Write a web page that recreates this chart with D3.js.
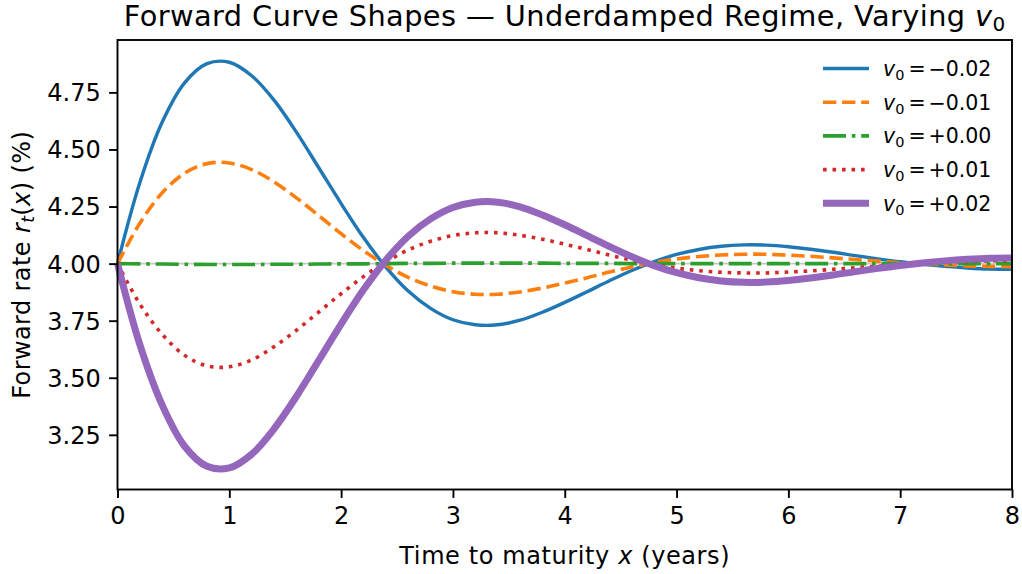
<!DOCTYPE html>
<html>
<head>
<meta charset="utf-8">
<script src="https://cdn.jsdelivr.net/npm/d3@7"></script>
<style>
  html, body { margin: 0; padding: 0; background: #fff; }
  svg { display: block; font-family: "DejaVu Sans", sans-serif; }
</style>
</head>
<body>
<svg id="chart" width="1022" height="574"></svg>
<script>
// ---- data ----
const maturity = [0,0.2,0.4,0.6,0.8,1,1.2,1.4,1.6,1.8,2,2.2,2.4,2.6,2.8,3,3.2,3.4,3.6,3.8,4,4.2,4.4,4.6,4.8,5,5.2,5.4,5.6,5.8,6,6.2,6.4,6.6,6.8,7,7.2,7.4,7.6,7.8,8];

const rateVm002 = [4.000,4.355,4.620,4.792,4.876,4.882,4.823,4.716,4.576,4.420,4.263,4.114,3.985,3.880,3.804,3.754,3.732,3.732,3.752,3.787,3.830,3.877,3.925,3.970,4.009,4.040,4.062,4.076,4.082,4.081,4.074,4.063,4.050,4.035,4.021,4.008,3.997,3.988,3.981,3.976,3.975];
const rateVm001 = [4.000,4.177,4.310,4.396,4.438,4.441,4.412,4.358,4.288,4.210,4.131,4.057,3.993,3.940,3.902,3.877,3.866,3.866,3.876,3.893,3.915,3.938,3.963,3.985,4.005,4.020,4.031,4.038,4.041,4.041,4.037,4.032,4.025,4.018,4.011,4.004,3.998,3.994,3.990,3.988,3.987];
const rateV000  = [4.000,3.999,3.998,3.997,3.996,3.996,3.996,3.997,3.997,3.998,3.999,3.999,4.000,4.001,4.001,4.002,4.002,4.002,4.002,4.002,4.001,4.001,4.001,4.000,4.000,4.000,4.000,4.000,4.000,4.000,4.000,4.000,4.000,4.000,4.000,4.000,4.000,4.000,4.000,4.000,4.000];
const rateVp001 = [4.000,3.823,3.690,3.598,3.552,3.548,3.578,3.636,3.708,3.788,3.868,3.943,4.007,4.060,4.098,4.123,4.135,4.135,4.124,4.107,4.085,4.062,4.037,4.015,3.995,3.980,3.969,3.962,3.959,3.959,3.963,3.968,3.975,3.982,3.989,3.996,4.002,4.006,4.010,4.012,4.013];
const rateVp002 = [4.000,3.645,3.380,3.200,3.112,3.105,3.165,3.276,3.418,3.576,3.735,3.885,4.015,4.120,4.196,4.246,4.269,4.269,4.249,4.213,4.170,4.123,4.075,4.030,3.991,3.960,3.938,3.924,3.918,3.919,3.926,3.937,3.950,3.965,3.979,3.992,4.003,4.012,4.019,4.024,4.025];

const seriesNames = ["−0.02","−0.01","+0.00","+0.01","+0.02"];
const seriesValues = [rateVm002, rateVm001, rateV000, rateVp001, rateVp002];
const xTicks = [0,1,2,3,4,5,6,7,8];
const yTicks = [3.25,3.50,3.75,4.00,4.25,4.50,4.75];
const xLimits = [0, 8];
const yLimits = [3.0105, 4.9795];
const baseRate = 4.0;

// ---- styles ----
const colors = ["#1f77b4","#ff7f0e","#2ca02c","#d62728","#9467bd"];
const widths = [3.4, 3.6, 3.6, 3.6, 7.0];
const dashes = [null, "13.3,5.8", "23,5.8,3.6,5.8", "3.6,5.9", null];

const svg = d3.select("#chart");
const M = {left: 117.5, right: 1012, top: 40, bottom: 489.5};
const x = d3.scaleLinear().domain(xLimits).range([M.left, M.right]);
const y = d3.scaleLinear().domain(yLimits).range([M.bottom, M.top]);

// reference line at base rate
svg.append("line")
  .attr("x1", x(xLimits[0])).attr("x2", x(xLimits[1]))
  .attr("y1", y(baseRate)).attr("y2", y(baseRate))
  .attr("stroke", "#999").attr("stroke-opacity", 0.55).attr("stroke-width", 1.6);

const line = d3.line()
  .x((d, i) => x(maturity[i]))
  .y(d => y(d))
  .curve(d3.curveCatmullRom.alpha(0.5));

const plotG = svg.append("g");
seriesValues.forEach((vals, k) => {
  plotG.append("path")
    .attr("d", line(vals))
    .attr("fill", "none")
    .attr("stroke", colors[k])
    .attr("stroke-width", widths[k])
    .attr("stroke-dasharray", dashes[k])
    .attr("stroke-linecap", "butt")
    .attr("stroke-linejoin", "round");
});

// axes
const tickFont = 24;
const xAxis = d3.axisBottom(x).tickValues(xTicks).tickFormat(d3.format("d"))
  .tickSize(8.4).tickPadding(9.5).tickSizeOuter(0);
const yAxis = d3.axisLeft(y).tickValues(yTicks).tickFormat(d3.format(".2f"))
  .tickSize(8.4).tickPadding(8.4).tickSizeOuter(0);

const gx = svg.append("g").attr("transform", `translate(0,${M.bottom})`).call(xAxis);
const gy = svg.append("g").attr("transform", `translate(${M.left},0)`).call(yAxis);
[gx, gy].forEach(g => {
  g.attr("font-family", "DejaVu Sans, sans-serif").attr("font-size", tickFont);
  g.select(".domain").remove();
  g.selectAll(".tick line").attr("stroke", "#000").attr("stroke-width", 1.9);
  g.selectAll(".tick text").attr("fill", "#000");
});
gy.selectAll(".tick text").attr("dy", "0.35em");

// frame
svg.append("rect")
  .attr("x", M.left).attr("y", M.top)
  .attr("width", M.right - M.left).attr("height", M.bottom - M.top)
  .attr("fill", "none").attr("stroke", "#000").attr("stroke-width", 1.9);

// title
const title = svg.append("text")
  .attr("x", (M.left + M.right) / 2).attr("y", 26)
  .attr("text-anchor", "middle").attr("font-size", 28.8).attr("fill", "#000")
  .attr("letter-spacing", 0.42);
title.append("tspan").text("Forward Curve Shapes — Underdamped Regime, Varying ");
title.append("tspan").attr("font-style", "italic").text("v");
title.append("tspan").attr("font-size", 20).attr("dy", 5).text("0");

// x label
const xl = svg.append("text")
  .attr("x", (M.left + M.right) / 2).attr("y", 564)
  .attr("text-anchor", "middle").attr("font-size", 24).attr("fill", "#000")
  .attr("letter-spacing", 0.6);
xl.append("tspan").text("Time to maturity ");
xl.append("tspan").attr("font-style", "italic").text("x");
xl.append("tspan").text(" (years)");

// y label
const yl = svg.append("text")
  .attr("transform", `translate(30,${(M.top + M.bottom) / 2}) rotate(-90)`)
  .attr("text-anchor", "middle").attr("font-size", 24).attr("fill", "#000")
  .attr("letter-spacing", 0.4);
yl.append("tspan").text("Forward rate ");
yl.append("tspan").attr("font-style", "italic").text("r");
yl.append("tspan").attr("font-style", "italic").attr("font-size", 17).attr("dy", 4).text("t");
yl.append("tspan").attr("dy", -4).text("(");
yl.append("tspan").attr("font-style", "italic").text("x");
yl.append("tspan").text(") (%)");

// legend
const legY0 = 68.5, legStep = 33.7;
seriesNames.forEach((name, k) => {
  const yy = legY0 + k * legStep;
  svg.append("line")
    .attr("x1", 823).attr("x2", 869).attr("y1", yy).attr("y2", yy)
    .attr("stroke", colors[k]).attr("stroke-width", widths[k])
    .attr("stroke-dasharray", dashes[k]);
  const t = svg.append("text").attr("x", 883).attr("y", yy + 7.3)
    .attr("font-size", 20.5).attr("fill", "#000");
  t.append("tspan").attr("font-style", "italic").text("v");
  t.append("tspan").attr("font-size", 14.5).attr("dy", 4).text("0");
  t.append("tspan").attr("dy", -4).attr("dx", 4).text("=");
  t.append("tspan").attr("dx", 3).text(name);
});
</script>
</body>
</html>
